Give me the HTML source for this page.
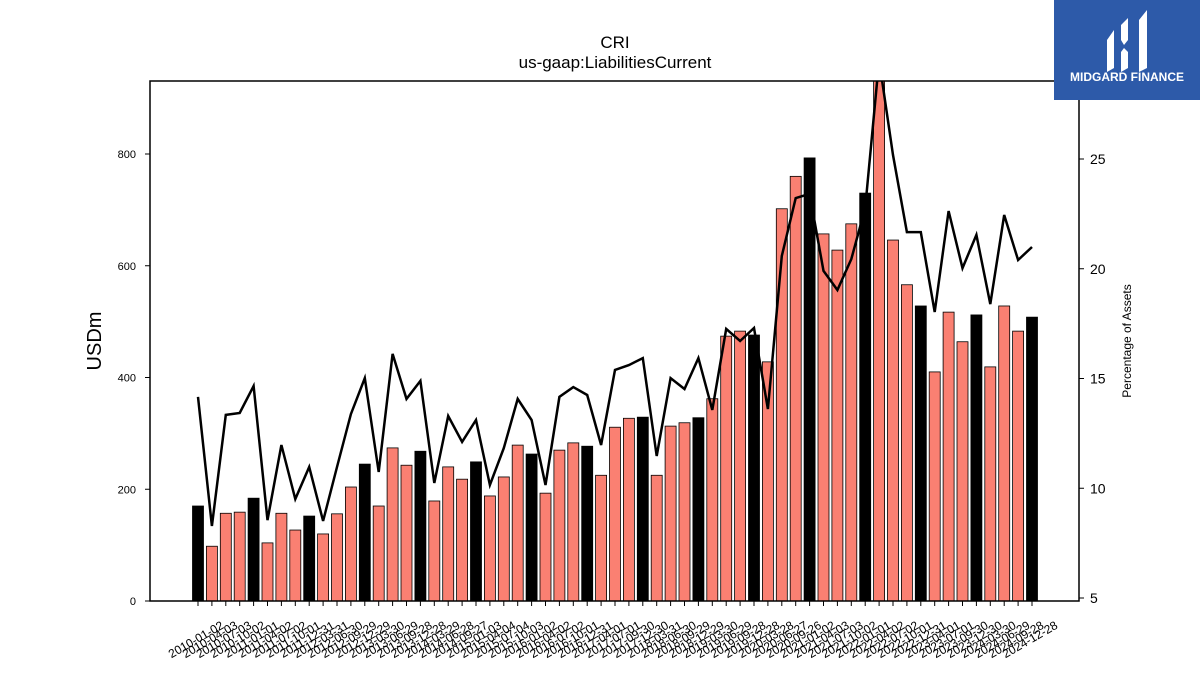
<!DOCTYPE html>
<html><head><meta charset="utf-8"><style>
body{margin:0;background:#fff;width:1200px;height:675px;overflow:hidden;font-family:"Liberation Sans","DejaVu Sans",sans-serif}
</style></head><body>
<svg id="chart" width="1200" height="675" xmlns="http://www.w3.org/2000/svg" style="position:absolute;left:0;top:0">
<text x="615" y="48" text-anchor="middle" font-size="17">CRI</text>
<text x="615" y="68" text-anchor="middle" font-size="17">us-gaap:LiabilitiesCurrent</text>
<g id="bars"></g><g id="xt"></g><g id="yl"></g><g id="yr"></g>
<clipPath id="cp"><rect x="150" y="81" width="929" height="520"/></clipPath>
<path id="line" fill="none" stroke="#000" stroke-width="2.5" clip-path="url(#cp)"/>
<rect x="150" y="81" width="929" height="520" fill="none" stroke="#000" stroke-width="1.5"/>
<text transform="translate(101,341) rotate(-90)" text-anchor="middle" font-size="20">USDm</text>
<text transform="translate(1131,341) rotate(-90)" text-anchor="middle" font-size="12">Percentage of Assets</text>
<g>
<rect x="1054" y="0" width="146" height="100" fill="#2d5aa9"/>
<path d="M1107 40 L1114 30 L1114 68 L1107 72 Z M1121 25 L1128 18 L1128 40 L1124 45 L1121 40 Z M1121 52 L1124 48 L1128 52 L1128 68 L1121 72 Z M1139 20 L1147 10 L1147 68 L1139 72 Z" fill="#fff"/>
<text x="1127" y="81" text-anchor="middle" font-size="12" font-weight="bold" fill="#fff">MIDGARD FINANCE</text>
</g>
</svg>
<script>
const labels=["2010-01-02","2010-04-03","2010-07-03","2010-10-02","2011-01-01","2011-04-02","2011-07-02","2011-10-01","2011-12-31","2012-03-31","2012-06-30","2012-09-29","2012-12-29","2013-03-30","2013-06-29","2013-09-28","2013-12-28","2014-03-29","2014-06-28","2014-09-27","2015-01-03","2015-04-04","2015-07-04","2015-10-03","2016-01-02","2016-04-02","2016-07-02","2016-10-01","2016-12-31","2017-04-01","2017-07-01","2017-09-30","2017-12-30","2018-03-31","2018-06-30","2018-09-29","2018-12-29","2019-03-30","2019-06-29","2019-09-28","2019-12-28","2020-03-28","2020-06-27","2020-09-26","2021-01-02","2021-04-03","2021-07-03","2021-10-02","2022-01-01","2022-04-02","2022-07-02","2022-10-01","2022-12-31","2023-04-01","2023-07-01","2023-09-30","2023-12-30","2024-03-30","2024-06-29","2024-09-28","2024-12-28"];
const liabilities=[170,98,157,159,184,104,157,127,152,120,156,204,245,170,274,243,268,179,240,218,249,188,222,279,263,193,270,283,277,225,311,327,329,225,313,319,328,362,474,483,476,428,702,760,793,657,628,675,730,960,646,566,528,410,517,464,512,419,528,483,508];
const pctAssets=[14.16,8.28,13.34,13.43,14.66,8.55,11.97,9.51,10.97,8.51,10.97,13.38,15.02,10.74,16.12,14.07,14.89,10.24,13.29,12.11,13.11,10.15,11.83,14.07,13.11,10.15,14.16,14.61,14.25,11.97,15.39,15.61,15.93,11.47,15.02,14.52,15.93,13.57,17.26,16.71,17.30,13.61,20.58,23.22,23.41,19.90,19.03,20.44,22.77,29.5,25.18,21.67,21.67,18.03,22.63,20.03,21.54,18.39,22.45,20.40,20.99];
const yLeftTicks=[0,200,400,600,800];
const yRightTicks=[5,10,15,20,25];
const NS="http://www.w3.org/2000/svg";
const x=i=>198+i*(1032-198)/(labels.length-1);
const yL=v=>601-v*0.55875;
const yR=v=>598-(v-5)*21.95;
function mk(t,a,p){const e=document.createElementNS(NS,t);for(const k in a)e.setAttribute(k,a[k]);p.appendChild(e);return e;}
const bars=document.getElementById('bars'),xt=document.getElementById('xt'),yl=document.getElementById('yl'),yr=document.getElementById('yr');
liabilities.forEach((v,i)=>{
 const top=Math.max(yL(v),81);
 const r=mk('rect',{x:x(i)-5.5,y:top,width:11,height:601-top,fill:i%4==0?'#000':'#fa8072',stroke:'#000','stroke-width':0.8},bars);
 
 
});
labels.forEach((l,i)=>{
 const tk=mk('line',{x1:x(i),x2:x(i),y1:601,y2:606,stroke:'#000'},xt);
 
 
 const t=mk('text',{transform:`translate(${x(i)},643) rotate(-30)`,'text-anchor':'middle','font-size':12},xt);
 t.textContent=l;
 
 
});
yLeftTicks.forEach(v=>{
 mk('line',{x1:145,x2:150,y1:yL(v),y2:yL(v),stroke:'#000'},yl);
 const t=mk('text',{x:136,y:yL(v)+4,'text-anchor':'end','font-size':11},yl);
 t.textContent=v;
 
 
});
yRightTicks.forEach(v=>{
 mk('line',{x1:1079,x2:1084,y1:yR(v),y2:yR(v),stroke:'#000'},yr);
 const t=mk('text',{x:1090,y:yR(v)+5,'font-size':14},yr);
 t.textContent=v;
 
 
});
document.getElementById('line').setAttribute('d',pctAssets.map((v,i)=>(i?'L':'M')+x(i).toFixed(1)+' '+yR(v).toFixed(1)).join(' '));
</script>
</body></html>
